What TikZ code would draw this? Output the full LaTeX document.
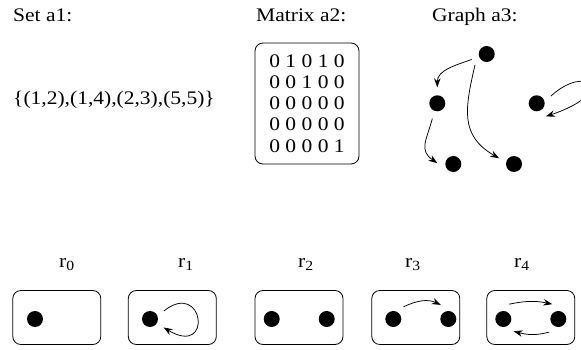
\documentclass[tikz,border=0pt]{standalone}
\usepackage{fontspec}
\setmainfont{Liberation Serif}[FakeStretch=1.12]
\usetikzlibrary{arrows.meta}

% lowered index for the relation labels
\newcommand{\relsub}[1]{\raisebox{-3.5pt}{\fontsize{14}{14}\selectfont #1}}

\begin{document}
\begin{tikzpicture}[x=1pt,y=1pt,
    dot/.style={circle,fill=black,minimum size=16pt,inner sep=0pt,outer sep=8pt},
    relbox/.style={draw,rounded corners=8pt,line width=0.8pt,minimum width=88pt,minimum height=54pt},
    arc/.style={-{Stealth[length=9pt,width=6.5pt,inset=3pt]},line width=0.75pt},
    lbl/.style={anchor=base west,inner sep=0pt,font=\fontsize{19.2}{21.2}\selectfont}]
  \useasboundingbox (0,0) rectangle (581,-350);

  % headings
  \node[lbl] (tset) at (13,-22) {Set a1:};
  \node[lbl] (tmat) at (256,-22) {Matrix a2:};
  \node[lbl] (tgraph) at (432,-22) {Graph a3:};

  % set a1
  \node[lbl] (pairs) at (13,-105) {\{(1,2),(1,4),(2,3),(5,5)\}};

  % matrix a2
  \node[draw,rounded corners=8pt,line width=0.8pt,minimum width=104pt,minimum height=121pt,
        align=center,inner sep=0pt,font=\fontsize{19.2}{21.2}\selectfont] (adj) at (307,-103.5)
    {0 1 0 1 0\\0 0 1 0 0\\0 0 0 0 0\\0 0 0 0 0\\0 0 0 0 1};

  % graph a3
  \node[dot] (g1) at (486.7,-54) {};
  \node[dot] (g2) at (437.3,-103.3) {};
  \node[dot] (g3) at (536.7,-103.3) {};
  \node[dot] (g4) at (453.3,-164) {};
  \node[dot] (g5) at (514,-164) {};
  \draw[arc] (g1) to[out=200,in=90] (g2);
  \draw[arc] (g1.223) to[out=257,in=150,looseness=1.2] (g5.159);
  \draw[arc] (g2.252) to[out=255,in=145,looseness=1.3] (g4.177);
  \draw[arc] (g3.27) .. controls +(36,33) and +(72,24) .. (g3.-55);

  % relations r0 .. r4
  \node[lbl] (r0) at (59,-267) {r\relsub{0}};
  \node[lbl] (r1) at (178,-267) {r\relsub{1}};
  \node[lbl] (r2) at (298,-267) {r\relsub{2}};
  \node[lbl] (r3) at (405,-267) {r\relsub{3}};
  \node[lbl] (r4) at (514,-267) {r\relsub{4}};

  \node[relbox] (b0) at (56.8,-317.5) {};
  \node[relbox] (b1) at (172.3,-317.5) {};
  \node[relbox] (b2) at (299,-317.5) {};
  \node[relbox] (b3) at (415.8,-317.5) {};
  \node[relbox] (b4) at (530.8,-317.5) {};

  \node[dot] (d0) at (35,-319) {};
  \node[dot] (d1) at (150,-319) {};
  \node[dot] (d2a) at (271.7,-319) {};
  \node[dot] (d2b) at (326.7,-319) {};
  \node[dot] (d3a) at (393.3,-319) {};
  \node[dot] (d3b) at (448.3,-319) {};
  \node[dot] (d4a) at (503.3,-319) {};
  \node[dot] (d4b) at (558.3,-319) {};

  \draw[arc] (d1.30) .. controls +(40,32) and +(50,-30) .. (d1.-32);
  \draw[arc] (d3a.50) to[out=25,in=155] (d3b.118);
  \draw[arc] (d4a.68) to[out=12,in=168] (d4b.112);
  \draw[arc] (d4b.-125) to[out=195,in=-15] (d4a.-50);
\end{tikzpicture}
\end{document}
